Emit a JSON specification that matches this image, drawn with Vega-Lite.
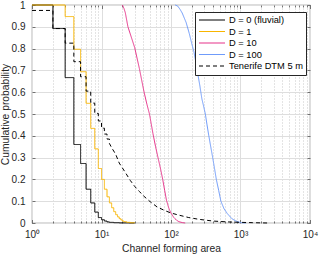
{
  "$schema": "https://vega.github.io/schema/vega-lite/v6.json",
  "width": 278,
  "height": 218,
  "autosize": "none",
  "padding": {"left": 32, "top": 5, "right": 10, "bottom": 32},
  "background": "white",
  "data": {"values": [
    {"s": "D = 0 (fluvial)", "x": 1, "y": 1.0},
    {"s": "D = 0 (fluvial)", "x": 2, "y": 0.892},
    {"s": "D = 0 (fluvial)", "x": 3, "y": 0.667},
    {"s": "D = 0 (fluvial)", "x": 4, "y": 0.36},
    {"s": "D = 0 (fluvial)", "x": 5, "y": 0.273},
    {"s": "D = 0 (fluvial)", "x": 6, "y": 0.155},
    {"s": "D = 0 (fluvial)", "x": 7, "y": 0.092},
    {"s": "D = 0 (fluvial)", "x": 8, "y": 0.05},
    {"s": "D = 0 (fluvial)", "x": 9, "y": 0.025},
    {"s": "D = 0 (fluvial)", "x": 10, "y": 0.015},
    {"s": "D = 0 (fluvial)", "x": 11, "y": 0.009},
    {"s": "D = 0 (fluvial)", "x": 12, "y": 0.005},
    {"s": "D = 0 (fluvial)", "x": 13, "y": 0.003},
    {"s": "D = 0 (fluvial)", "x": 15, "y": 0.0015},
    {"s": "D = 0 (fluvial)", "x": 18, "y": 0.0005},
    {"s": "D = 0 (fluvial)", "x": 25, "y": 0},
    {"s": "D = 0 (fluvial)", "x": 30, "y": 0},
    {"s": "D = 1", "x": 1, "y": 1.0},
    {"s": "D = 1", "x": 3, "y": 0.947},
    {"s": "D = 1", "x": 4, "y": 0.797},
    {"s": "D = 1", "x": 5, "y": 0.694},
    {"s": "D = 1", "x": 6, "y": 0.549},
    {"s": "D = 1", "x": 7, "y": 0.434},
    {"s": "D = 1", "x": 8, "y": 0.34},
    {"s": "D = 1", "x": 9, "y": 0.25},
    {"s": "D = 1", "x": 10, "y": 0.2},
    {"s": "D = 1", "x": 11, "y": 0.155},
    {"s": "D = 1", "x": 12, "y": 0.12},
    {"s": "D = 1", "x": 13, "y": 0.092},
    {"s": "D = 1", "x": 14, "y": 0.07},
    {"s": "D = 1", "x": 15, "y": 0.052},
    {"s": "D = 1", "x": 16, "y": 0.038},
    {"s": "D = 1", "x": 17, "y": 0.028},
    {"s": "D = 1", "x": 18, "y": 0.02},
    {"s": "D = 1", "x": 19, "y": 0.014},
    {"s": "D = 1", "x": 20, "y": 0.009},
    {"s": "D = 1", "x": 21, "y": 0.006},
    {"s": "D = 1", "x": 23, "y": 0.003},
    {"s": "D = 1", "x": 26, "y": 0.001},
    {"s": "D = 1", "x": 30, "y": 0},
    {"s": "D = 10", "x": 20, "y": 1.0},
    {"s": "D = 10", "x": 21, "y": 0.985},
    {"s": "D = 10", "x": 22, "y": 0.965},
    {"s": "D = 10", "x": 24, "y": 0.9},
    {"s": "D = 10", "x": 27, "y": 0.85},
    {"s": "D = 10", "x": 30, "y": 0.805},
    {"s": "D = 10", "x": 35, "y": 0.71},
    {"s": "D = 10", "x": 41, "y": 0.6},
    {"s": "D = 10", "x": 45, "y": 0.545},
    {"s": "D = 10", "x": 49, "y": 0.5},
    {"s": "D = 10", "x": 55, "y": 0.41},
    {"s": "D = 10", "x": 60, "y": 0.35},
    {"s": "D = 10", "x": 65, "y": 0.3},
    {"s": "D = 10", "x": 70, "y": 0.255},
    {"s": "D = 10", "x": 76, "y": 0.2},
    {"s": "D = 10", "x": 81, "y": 0.15},
    {"s": "D = 10", "x": 86, "y": 0.105},
    {"s": "D = 10", "x": 93, "y": 0.068},
    {"s": "D = 10", "x": 100, "y": 0.045},
    {"s": "D = 10", "x": 110, "y": 0.025},
    {"s": "D = 10", "x": 120, "y": 0.013},
    {"s": "D = 10", "x": 130, "y": 0.006},
    {"s": "D = 10", "x": 145, "y": 0.002},
    {"s": "D = 10", "x": 160, "y": 0},
    {"s": "D = 100", "x": 115, "y": 1.0},
    {"s": "D = 100", "x": 125, "y": 0.995},
    {"s": "D = 100", "x": 135, "y": 0.98},
    {"s": "D = 100", "x": 145, "y": 0.963},
    {"s": "D = 100", "x": 165, "y": 0.92},
    {"s": "D = 100", "x": 183, "y": 0.87},
    {"s": "D = 100", "x": 200, "y": 0.82},
    {"s": "D = 100", "x": 214, "y": 0.785},
    {"s": "D = 100", "x": 230, "y": 0.73},
    {"s": "D = 100", "x": 241, "y": 0.69},
    {"s": "D = 100", "x": 260, "y": 0.63},
    {"s": "D = 100", "x": 278, "y": 0.57},
    {"s": "D = 100", "x": 295, "y": 0.535},
    {"s": "D = 100", "x": 312, "y": 0.5},
    {"s": "D = 100", "x": 330, "y": 0.45},
    {"s": "D = 100", "x": 350, "y": 0.4},
    {"s": "D = 100", "x": 373, "y": 0.35},
    {"s": "D = 100", "x": 398, "y": 0.3},
    {"s": "D = 100", "x": 423, "y": 0.25},
    {"s": "D = 100", "x": 449, "y": 0.2},
    {"s": "D = 100", "x": 485, "y": 0.15},
    {"s": "D = 100", "x": 522, "y": 0.1},
    {"s": "D = 100", "x": 580, "y": 0.065},
    {"s": "D = 100", "x": 647, "y": 0.043},
    {"s": "D = 100", "x": 750, "y": 0.02},
    {"s": "D = 100", "x": 847, "y": 0.01},
    {"s": "D = 100", "x": 950, "y": 0.004},
    {"s": "D = 100", "x": 1050, "y": 0.001},
    {"s": "D = 100", "x": 1200, "y": 0},
    {"s": "Tenerife DTM 5 m", "x": 1, "y": 0.975},
    {"s": "Tenerife DTM 5 m", "x": 2, "y": 0.975},
    {"s": "Tenerife DTM 5 m", "x": 2, "y": 0.892},
    {"s": "Tenerife DTM 5 m", "x": 3, "y": 0.892},
    {"s": "Tenerife DTM 5 m", "x": 3, "y": 0.825},
    {"s": "Tenerife DTM 5 m", "x": 4, "y": 0.825},
    {"s": "Tenerife DTM 5 m", "x": 4, "y": 0.74},
    {"s": "Tenerife DTM 5 m", "x": 5, "y": 0.74},
    {"s": "Tenerife DTM 5 m", "x": 5, "y": 0.671},
    {"s": "Tenerife DTM 5 m", "x": 6, "y": 0.671},
    {"s": "Tenerife DTM 5 m", "x": 6, "y": 0.605},
    {"s": "Tenerife DTM 5 m", "x": 7, "y": 0.605},
    {"s": "Tenerife DTM 5 m", "x": 7, "y": 0.55},
    {"s": "Tenerife DTM 5 m", "x": 8, "y": 0.55},
    {"s": "Tenerife DTM 5 m", "x": 8, "y": 0.503},
    {"s": "Tenerife DTM 5 m", "x": 9, "y": 0.503},
    {"s": "Tenerife DTM 5 m", "x": 9, "y": 0.468},
    {"s": "Tenerife DTM 5 m", "x": 10, "y": 0.468},
    {"s": "Tenerife DTM 5 m", "x": 10, "y": 0.435},
    {"s": "Tenerife DTM 5 m", "x": 11, "y": 0.435},
    {"s": "Tenerife DTM 5 m", "x": 11, "y": 0.408},
    {"s": "Tenerife DTM 5 m", "x": 12, "y": 0.408},
    {"s": "Tenerife DTM 5 m", "x": 12, "y": 0.385},
    {"s": "Tenerife DTM 5 m", "x": 13, "y": 0.385},
    {"s": "Tenerife DTM 5 m", "x": 13, "y": 0.365},
    {"s": "Tenerife DTM 5 m", "x": 14, "y": 0.345},
    {"s": "Tenerife DTM 5 m", "x": 15, "y": 0.33},
    {"s": "Tenerife DTM 5 m", "x": 16, "y": 0.315},
    {"s": "Tenerife DTM 5 m", "x": 18, "y": 0.275},
    {"s": "Tenerife DTM 5 m", "x": 22, "y": 0.232},
    {"s": "Tenerife DTM 5 m", "x": 26, "y": 0.195},
    {"s": "Tenerife DTM 5 m", "x": 30, "y": 0.168},
    {"s": "Tenerife DTM 5 m", "x": 35, "y": 0.145},
    {"s": "Tenerife DTM 5 m", "x": 40, "y": 0.125},
    {"s": "Tenerife DTM 5 m", "x": 50, "y": 0.098},
    {"s": "Tenerife DTM 5 m", "x": 63, "y": 0.074},
    {"s": "Tenerife DTM 5 m", "x": 80, "y": 0.058},
    {"s": "Tenerife DTM 5 m", "x": 100, "y": 0.046},
    {"s": "Tenerife DTM 5 m", "x": 130, "y": 0.036},
    {"s": "Tenerife DTM 5 m", "x": 180, "y": 0.025},
    {"s": "Tenerife DTM 5 m", "x": 250, "y": 0.017},
    {"s": "Tenerife DTM 5 m", "x": 400, "y": 0.009},
    {"s": "Tenerife DTM 5 m", "x": 650, "y": 0.005},
    {"s": "Tenerife DTM 5 m", "x": 1000, "y": 0.003},
    {"s": "Tenerife DTM 5 m", "x": 1500, "y": 0.0015},
    {"s": "Tenerife DTM 5 m", "x": 2000, "y": 0.0005},
    {"s": "Tenerife DTM 5 m", "x": 2500, "y": 0}
  ]},
  "layer": [
    {
      "transform": [{"filter": {"field": "s", "oneOf": ["D = 0 (fluvial)", "D = 1"]}}],
      "mark": {"type": "line", "interpolate": "step-after", "strokeWidth": 1},
      "encoding": {
        "x": {"field": "x", "type": "quantitative",
          "scale": {"type": "log", "domain": [1, 10000], "nice": false},
          "axis": {
            "title": "Channel forming area",
            "values": [1,2,3,4,5,6,7,8,9,10,20,30,40,50,60,70,80,90,100,200,300,400,500,600,700,800,900,1000,2000,3000,4000,5000,6000,7000,8000,9000,10000],
            "labelExpr": "datum.value == 1 ? '10⁰' : datum.value == 10 ? '10¹' : datum.value == 100 ? '10²' : datum.value == 1000 ? '10³' : datum.value == 10000 ? '10⁴' : ''",
            "labelOverlap": false,
            "labelFlush": false,
            "labelPadding": 10,
            "titlePadding": 2,
            "grid": true,
            "gridDash": {"condition": {"test": "datum.value == 1 || datum.value == 10 || datum.value == 100 || datum.value == 1000 || datum.value == 10000", "value": []}, "value": [1, 2]},
            "gridColor": {"condition": {"test": "datum.value == 1 || datum.value == 10 || datum.value == 100 || datum.value == 1000 || datum.value == 10000", "value": "#dedede"}, "value": "#c8c8c8"},
            "tickSize": {"condition": {"test": "datum.value == 1 || datum.value == 10 || datum.value == 100 || datum.value == 1000 || datum.value == 10000", "value": -3.5}, "value": -2}
          }
        },
        "y": {"field": "y", "type": "quantitative",
          "scale": {"domain": [0, 1], "nice": false},
          "axis": {
            "title": "Cumulative probability",
            "values": [0, 0.1, 0.2, 0.3, 0.4, 0.5, 0.6, 0.7, 0.8, 0.9, 1],
            "format": "~g",
            "grid": true,
            "gridColor": "#dedede",
            "tickSize": -3,
            "labelPadding": 10,
            "titlePadding": 1
          }
        },
        "color": {"field": "s", "type": "nominal",
          "scale": {"domain": ["D = 0 (fluvial)", "D = 1", "D = 10", "D = 100", "Tenerife DTM 5 m"],
                    "range": ["#000000", "#f8b500", "#e6338a", "#6f9bfa", "#000000"]},
          "legend": {"title": null}},
        "strokeDash": {"field": "s", "type": "nominal",
          "scale": {"domain": ["D = 0 (fluvial)", "D = 1", "D = 10", "D = 100", "Tenerife DTM 5 m"],
                    "range": [[1, 0], [1, 0], [1, 0], [1, 0], [4, 3]]},
          "legend": {"title": null}}
      }
    },
    {
      "transform": [{"filter": {"field": "s", "oneOf": ["D = 10", "D = 100", "Tenerife DTM 5 m"]}}],
      "mark": {"type": "line", "interpolate": "linear", "strokeWidth": 1},
      "encoding": {
        "x": {"field": "x", "type": "quantitative",
          "axis": {
            "orient": "top", "title": null, "labels": false, "grid": false,
            "values": [1,2,3,4,5,6,7,8,9,10,20,30,40,50,60,70,80,90,100,200,300,400,500,600,700,800,900,1000,2000,3000,4000,5000,6000,7000,8000,9000,10000],
            "tickSize": {"condition": {"test": "datum.value == 1 || datum.value == 10 || datum.value == 100 || datum.value == 1000 || datum.value == 10000", "value": -3.5}, "value": -2}
          }
        },
        "y": {"field": "y", "type": "quantitative",
          "axis": {"orient": "right", "title": null, "labels": false, "grid": false,
            "values": [0, 0.1, 0.2, 0.3, 0.4, 0.5, 0.6, 0.7, 0.8, 0.9, 1], "tickSize": -3}
        },
        "color": {"field": "s", "type": "nominal"},
        "strokeDash": {"field": "s", "type": "nominal"},
        "order": {"value": null}
      }
    }
  ],
  "resolve": {"axis": {"x": "independent", "y": "independent"}},
  "config": {
    "view": {"stroke": "#262626", "strokeWidth": 0.8},
    "axis": {
      "domain": false,
      "labelFont": "Liberation Sans",
      "titleFont": "Liberation Sans",
      "labelFontSize": 10,
      "titleFontSize": 10.3,
      "titleFontWeight": "normal",
      "labelColor": "#262626",
      "titleColor": "#262626",
      "tickColor": "#262626",
      "tickWidth": 0.6
    },
    "legend": {
      "orient": "none",
      "legendX": 163,
      "legendY": 7,
      "symbolType": "stroke",
      "symbolSize": 676,
      "symbolStrokeWidth": 1.2,
      "labelFont": "Liberation Sans",
      "labelFontSize": 9.3,
      "labelColor": "#000000",
      "labelOffset": 3,
      "strokeColor": "#262626",
      "fillColor": "white",
      "padding": 3,
      "clipHeight": 10,
      "rowPadding": 0.5
    }
  }
}
